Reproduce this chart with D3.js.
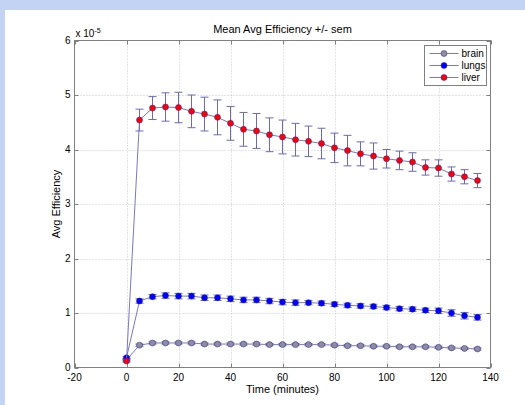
<!DOCTYPE html>
<html lang="en">
<head>
    <meta charset="UTF-8">
    <title>Mean Avg Efficiency +/- sem</title>
    <script src="https://d3js.org/d3.v7.min.js"></script>
    <style>
        body { margin: 0; background: #c3d3f3; }
        svg { display: block; }
        text { font-family: "Liberation Sans", Arial, sans-serif; fill: #000; }
        .tick-label { font-size: 10px; }
        .title { font-size: 11px; text-anchor: middle; }
        .axis-label { font-size: 11px; text-anchor: middle; }
        .grid { stroke: #c8c8c8; stroke-width: 1; stroke-dasharray: 1,2; }
    </style>
</head>
<body>
<svg width="525" height="405"></svg>
<script>
    // time points (minutes)
    const times = [0, 5, 10, 15, 20, 25, 30, 35, 40, 45, 50, 55, 60, 65,
                   70, 75, 80, 85, 90, 95, 100, 105, 110, 115, 120, 125, 130, 135];

    // means, x 10^-5
    const brainMean = [0.14, 0.41, 0.45, 0.45, 0.45, 0.45, 0.43, 0.43, 0.43, 0.43, 0.43, 0.42, 0.42, 0.42,
                       0.42, 0.42, 0.41, 0.40, 0.40, 0.39, 0.39, 0.38, 0.38, 0.38, 0.37, 0.36, 0.35, 0.34];
    const brainSem  = [0.02, 0.02, 0.02, 0.02, 0.02, 0.02, 0.02, 0.02, 0.02, 0.02, 0.02, 0.02, 0.02, 0.02,
                       0.02, 0.02, 0.02, 0.02, 0.02, 0.02, 0.02, 0.02, 0.02, 0.02, 0.02, 0.02, 0.02, 0.02];

    const lungsMean = [0.18, 1.22, 1.30, 1.32, 1.31, 1.31, 1.28, 1.28, 1.26, 1.24, 1.24, 1.22, 1.20, 1.19,
                       1.19, 1.18, 1.16, 1.14, 1.13, 1.12, 1.10, 1.08, 1.07, 1.05, 1.04, 1.00, 0.95, 0.92];
    const lungsSem  = [0.02, 0.04, 0.04, 0.05, 0.05, 0.05, 0.05, 0.05, 0.05, 0.05, 0.05, 0.05, 0.05, 0.05,
                       0.04, 0.04, 0.04, 0.04, 0.04, 0.04, 0.04, 0.04, 0.04, 0.04, 0.05, 0.06, 0.06, 0.05];

    const liverMean = [0.12, 4.54, 4.76, 4.78, 4.77, 4.70, 4.65, 4.59, 4.48, 4.37, 4.34, 4.27, 4.23, 4.18,
                       4.15, 4.11, 4.03, 3.98, 3.92, 3.88, 3.83, 3.80, 3.77, 3.67, 3.66, 3.55, 3.50, 3.43];
    const liverSem  = [0.02, 0.20, 0.21, 0.26, 0.28, 0.30, 0.31, 0.32, 0.31, 0.31, 0.32, 0.31, 0.31, 0.30,
                       0.28, 0.28, 0.27, 0.28, 0.22, 0.24, 0.17, 0.17, 0.17, 0.14, 0.15, 0.13, 0.13, 0.13];

    const seriesNames = ["brain", "lungs", "liver"];
    const markerFills = ["#8e8e9c", "#0000ff", "#ff0000"];

    const xTicks = [-20, 0, 20, 40, 60, 80, 100, 120, 140];
    const yTicks = [0, 1, 2, 3, 4, 5, 6];

    const svg = d3.select("svg");

    // white figure area
    svg.append("rect")
        .attr("x", 5).attr("y", 10)
        .attr("width", 520).attr("height", 395)
        .attr("fill", "#fff");

    const axL = 74.5, axR = 490.5, axT = 40.5, axB = 367.5;

    const x = d3.scaleLinear().domain([-20, 140]).range([axL, axR]);
    const y = d3.scaleLinear().domain([0, 6]).range([axB, axT]);

    // grid
    svg.selectAll(".gx").data(xTicks.slice(1, -1)).enter().append("line")
        .attr("class", "grid")
        .attr("x1", d => Math.round(x(d)) + 0.5).attr("x2", d => Math.round(x(d)) + 0.5)
        .attr("y1", axT).attr("y2", axB);
    svg.selectAll(".gy").data(yTicks.slice(1, -1)).enter().append("line")
        .attr("class", "grid")
        .attr("x1", axL).attr("x2", axR)
        .attr("y1", d => Math.round(y(d)) + 0.5).attr("y2", d => Math.round(y(d)) + 0.5);

    // axes box
    svg.append("rect")
        .attr("x", axL).attr("y", axT)
        .attr("width", axR - axL).attr("height", axB - axT)
        .attr("fill", "none").attr("stroke", "#808080").attr("stroke-width", 1);

    // ticks (inward, all four sides)
    const tl = 4;
    xTicks.forEach(t => {
        const px = Math.round(x(t)) + 0.5;
        svg.append("line").attr("x1", px).attr("x2", px).attr("y1", axB).attr("y2", axB - tl).attr("stroke", "#808080");
        svg.append("line").attr("x1", px).attr("x2", px).attr("y1", axT).attr("y2", axT + tl).attr("stroke", "#808080");
    });
    yTicks.forEach(t => {
        const py = Math.round(y(t)) + 0.5;
        svg.append("line").attr("x1", axL).attr("x2", axL + tl).attr("y1", py).attr("y2", py).attr("stroke", "#808080");
        svg.append("line").attr("x1", axR).attr("x2", axR - tl).attr("y1", py).attr("y2", py).attr("stroke", "#808080");
    });

    // tick labels
    svg.selectAll(".xl").data(xTicks).enter().append("text")
        .attr("class", "tick-label")
        .attr("x", d => x(d)).attr("y", axB + 13)
        .attr("text-anchor", "middle")
        .text(d => d);
    svg.selectAll(".yl").data(yTicks).enter().append("text")
        .attr("class", "tick-label")
        .attr("x", axL - 4).attr("y", d => y(d) + 3)
        .attr("text-anchor", "end")
        .text(d => d);

    // exponent
    const ex = svg.append("text").attr("class", "tick-label").attr("x", axL + 1).attr("y", axT - 4);
    ex.append("tspan").text("x 10");
    ex.append("tspan").attr("dy", -4).attr("font-size", "7px").text("-5");

    // titles
    svg.append("text").attr("class", "title")
        .attr("x", (axL + axR) / 2).attr("y", 33)
        .text("Mean Avg Efficiency +/- sem");
    svg.append("text").attr("class", "axis-label")
        .attr("x", (axL + axR) / 2).attr("y", 393)
        .text("Time (minutes)");
    svg.append("text").attr("class", "axis-label")
        .attr("transform", `translate(60,${(axT + axB) / 2}) rotate(-90)`)
        .text("Avg Efficiency");

    const lineColor = "#7878c4";
    const barColor = "#6a6ab8";
    const edgeColor = "#2020a0";

    const allSeries = [
        {name: "brain", mean: brainMean, sem: brainSem, fill: markerFills[0]},
        {name: "lungs", mean: lungsMean, sem: lungsSem, fill: markerFills[1]},
        {name: "liver", mean: liverMean, sem: liverSem, fill: markerFills[2]}
    ];

    const line = d3.line().x(d => x(d.t)).y(d => y(d.m));
    const cap = 4;

    allSeries.forEach(s => {
        const pts = times.map((t, i) => ({t: t, m: s.mean[i], e: s.sem[i]}));
        const g = svg.append("g");

        // error bars
        pts.forEach(p => {
            const px = x(p.t), yt = y(p.m + p.e), yb = y(p.m - p.e);
            g.append("line").attr("x1", px).attr("x2", px).attr("y1", yt).attr("y2", yb)
                .attr("stroke", barColor).attr("stroke-width", 1);
            g.append("line").attr("x1", px - cap).attr("x2", px + cap).attr("y1", yt).attr("y2", yt)
                .attr("stroke", barColor).attr("stroke-width", 1);
            g.append("line").attr("x1", px - cap).attr("x2", px + cap).attr("y1", yb).attr("y2", yb)
                .attr("stroke", barColor).attr("stroke-width", 1);
        });

        g.append("path").datum(pts)
            .attr("d", line)
            .attr("fill", "none")
            .attr("stroke", lineColor)
            .attr("stroke-width", 1);

        g.selectAll("circle").data(pts).enter().append("circle")
            .attr("cx", d => x(d.t)).attr("cy", d => y(d.m))
            .attr("r", 3)
            .attr("fill", s.fill)
            .attr("stroke", edgeColor)
            .attr("stroke-width", 0.5);
    });

    // legend
    const legend = svg.append("g").attr("transform", "translate(424.5,45.5)");
    legend.append("rect")
        .attr("width", 62).attr("height", 40)
        .attr("fill", "#fff").attr("stroke", "#808080");
    seriesNames.forEach((n, i) => {
        const ly = 8 + i * 12;
        legend.append("line").attr("x1", 5).attr("x2", 34).attr("y1", ly).attr("y2", ly)
            .attr("stroke", lineColor);
        legend.append("circle").attr("cx", 19.5).attr("cy", ly).attr("r", 3)
            .attr("fill", markerFills[i]).attr("stroke", edgeColor).attr("stroke-width", 0.5);
        legend.append("text").attr("class", "tick-label")
            .attr("x", 37).attr("y", ly + 3.5)
            .text(n);
    });
</script>
</body>
</html>
